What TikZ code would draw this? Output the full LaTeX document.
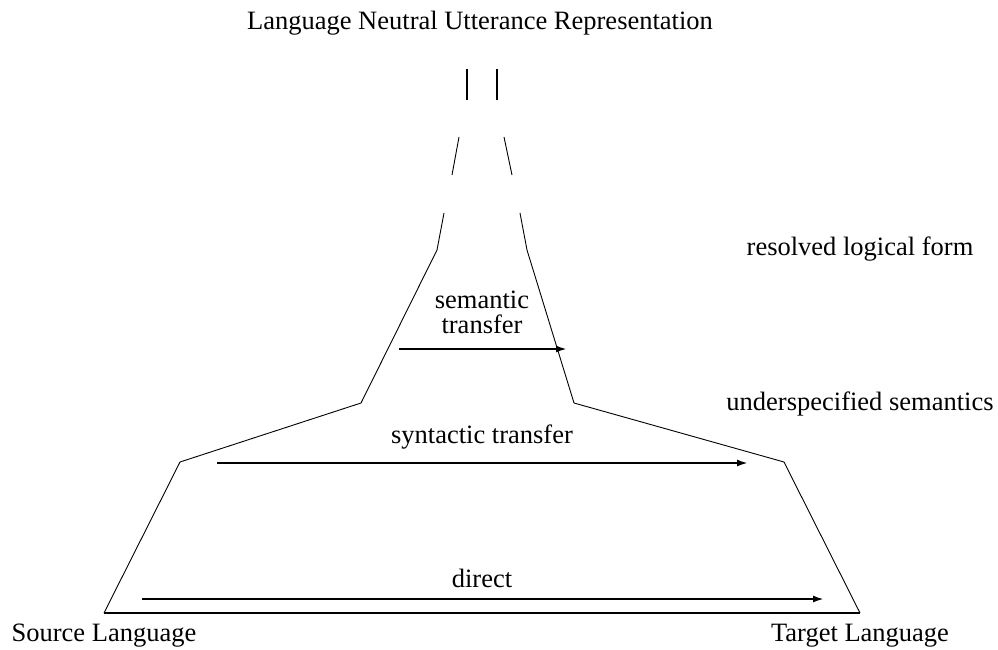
\documentclass[tikz,border=0pt]{standalone}
\usepackage{fontspec}
\setmainfont{Liberation Serif}
\usetikzlibrary{arrows.meta}
\begin{document}
\begin{tikzpicture}[x=1pt,y=-1pt,
  lbl/.style={font=\fontsize{26.5}{25}\selectfont, inner sep=0pt, align=center},
  side/.style={line width=0.9pt, line join=miter},
  xfer/.style={line width=2pt, -{Latex[length=11pt,width=7pt]}}]
\useasboundingbox (0,0) rectangle (998,650);
% outline
\draw[side] (437,250) -- (361,403) -- (180,462) -- (104,613);
\draw[side] (527,250) -- (574,403) -- (784,462) -- (860,613);
\draw[side] (444,213) -- (437,250);
\draw[side] (520,213) -- (527,250);
\draw[side] (459,137) -- (452,175);
\draw[side] (504,137) -- (512,175);
\draw[line width=1.7pt] (104,613) -- (860,613);
\draw[line width=2pt] (467,69) -- (467,100);
\draw[line width=2pt] (497,69) -- (497,100);
% labels
\node[lbl] (title) at (480,23) {Language Neutral Utterance Representation};
\node[lbl] (rlf) at (860,249) {resolved logical form};
\node[lbl] (us) at (860,404) {underspecified semantics};
\node[lbl] (src) at (104,636) {Source Language};
\node[lbl] (tgt) at (860,636) {Target Language};
\node[lbl] (sem) at (482,312) {semantic\\transfer};
\node[lbl] (syn) at (482,437) {syntactic transfer};
\node[lbl] (dir) at (482,578) {direct};
% arrows
\coordinate (s1) at (399,349); \coordinate (s2) at (567,349);
\coordinate (y1) at (217,463); \coordinate (y2) at (748,463);
\coordinate (d1) at (142,599); \coordinate (d2) at (824,599);
\draw[xfer] (s1) -- (s2);
\draw[xfer] (y1) -- (y2);
\draw[xfer] (d1) -- (d2);
\end{tikzpicture}
\end{document}
